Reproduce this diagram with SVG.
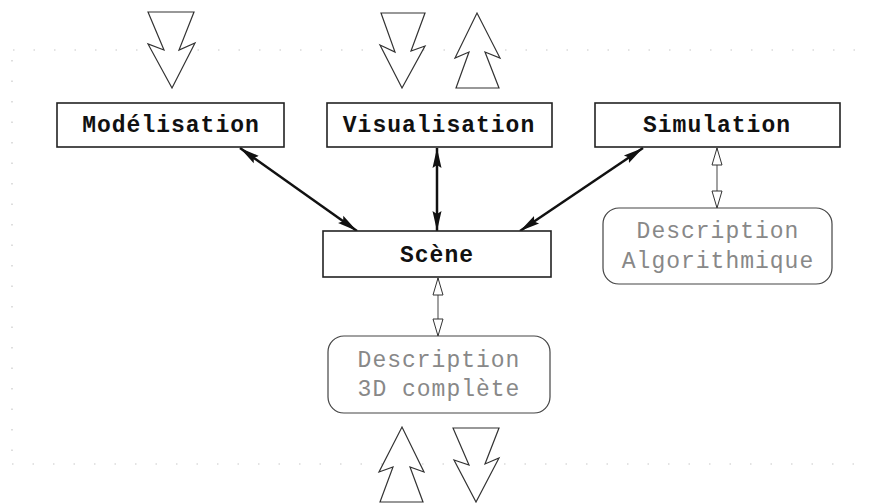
<svg xmlns="http://www.w3.org/2000/svg" width="871" height="503" viewBox="0 0 871 503">
<style>
.box{fill:#fff;stroke:#222;stroke-width:1.6}
.rbox{fill:#fff;stroke:#444;stroke-width:1.2}
.lbl{font-family:"Liberation Mono","Courier New",monospace;font-size:23px;font-weight:bold;fill:#111;text-anchor:middle;letter-spacing:1px}
.desc{font-family:"Liberation Mono","Courier New",monospace;font-size:23px;fill:#888;text-anchor:middle;letter-spacing:1px}
.big{fill:#fff;stroke:#333;stroke-width:1.2;stroke-linejoin:miter}
.bl{stroke:#111;stroke-width:2.5;fill:none;marker-start:url(#bh);marker-end:url(#bh)}
.tl{stroke:#555;stroke-width:1.1;fill:none;marker-start:url(#oh);marker-end:url(#oh)}
.dot{stroke:#c8c8c8;stroke-width:1.2;stroke-dasharray:1.5 19;fill:none}
</style>
<defs>
<marker id="bh" markerUnits="userSpaceOnUse" markerWidth="22" markerHeight="12" refX="20" refY="6" orient="auto-start-reverse">
<path d="M0,1.5 L20,6 L0,10.5 L3,6 z" fill="#111"/>
</marker>
<marker id="oh" markerUnits="userSpaceOnUse" markerWidth="20" markerHeight="12" refX="18" refY="6" orient="auto-start-reverse">
<path d="M1,1 L18,6 L1,11 z" fill="#fff" stroke="#333" stroke-width="1"/>
</marker>
</defs>
<rect width="871" height="503" fill="#fff"/>
<g id="frame">
<line class="dot" x1="13" y1="50" x2="871" y2="50"/>
<line class="dot" x1="12" y1="464" x2="871" y2="464"/>
<line class="dot" x1="12" y1="60" x2="12" y2="464"/>
</g>
<g id="flows">
<polygon class="big" points="148,12 164,50 148,44 172,88 195,43 179,50 194,12"/>
<polygon class="big" points="381,13 395,52 380,45 402,88 425,46 411,51 425,13"/>
<polygon class="big" points="456,88 469,52 455,58 477,13 500,58 485,52 499,88"/>
<polygon class="big" points="380,502 393,467 379,472 402,427 424,472 410,467 423,502"/>
<polygon class="big" points="453,428 469,465 454,460 476,502 499,458 485,464 499,428"/>
</g>
<g id="connectors">
<line class="bl" x1="240" y1="148" x2="357" y2="231"/>
<line class="bl" x1="437" y1="148" x2="437" y2="231"/>
<line class="bl" x1="643" y1="148" x2="520" y2="231"/>
<line class="tl" x1="717" y1="148" x2="717" y2="208"/>
<line class="tl" x1="438" y1="278" x2="438" y2="336"/>
</g>
<g id="modelisation">
<rect class="box" x="57" y="103" width="227" height="44"/>
<text class="lbl" x="171" y="132">Modélisation</text>
</g>
<g id="visualisation">
<rect class="box" x="327" y="103" width="225" height="44"/>
<text class="lbl" x="439" y="132">Visualisation</text>
</g>
<g id="simulation">
<rect class="box" x="595" y="103" width="245" height="44"/>
<text class="lbl" x="717" y="132">Simulation</text>
</g>
<g id="scene">
<rect class="box" x="323" y="231" width="228" height="46"/>
<text class="lbl" x="437" y="262">Scène</text>
</g>
<g id="desc3d">
<rect class="rbox" x="328" y="336" width="222" height="77" rx="16"/>
<text class="desc" x="439" y="367">Description</text>
<text class="desc" x="439" y="396">3D complète</text>
</g>
<g id="descalgo">
<rect class="rbox" x="603" y="208" width="229" height="76" rx="16"/>
<text class="desc" x="718" y="238">Description</text>
<text class="desc" x="718" y="268">Algorithmique</text>
</g>
</svg>
